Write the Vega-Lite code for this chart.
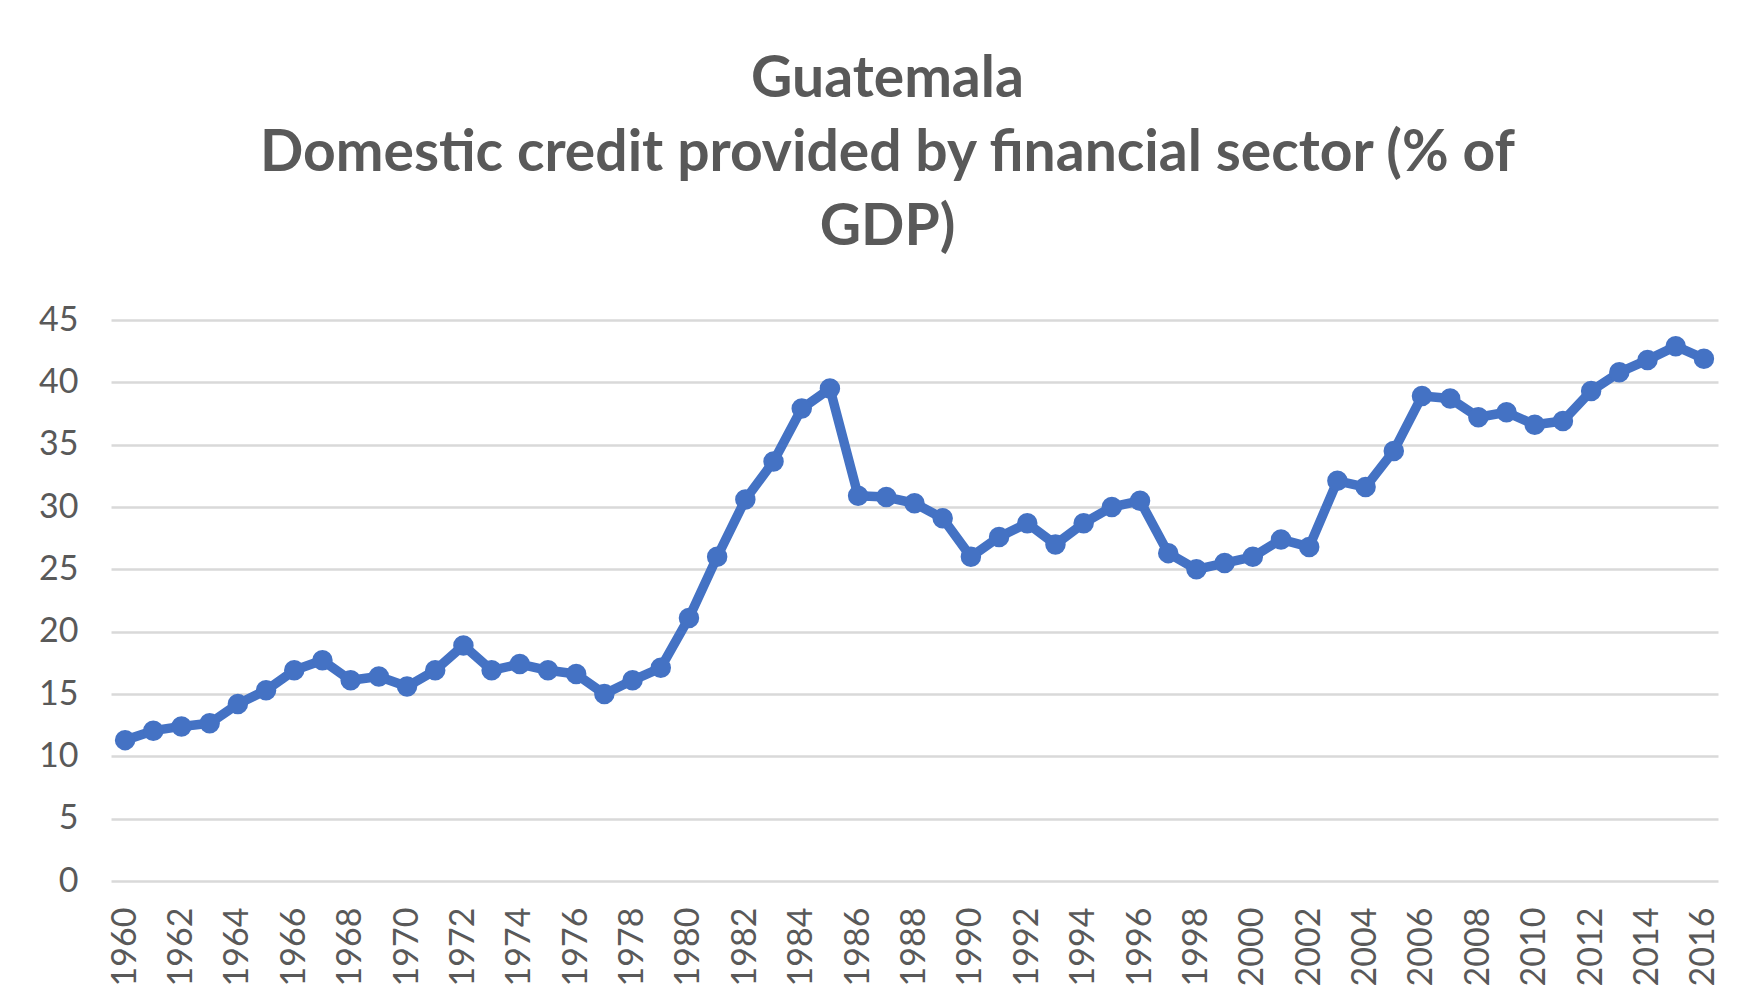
{
  "$schema": "https://vega.github.io/schema/vega-lite/v6.json",
  "autosize": {"type": "none"},
  "padding": {"left": 111, "top": 320, "right": 27, "bottom": 126},
  "width": 1607,
  "height": 561,
  "background": "white",
  "title": {
    "text": ["Guatemala", "Domestic credit provided by financial sector (% of", "GDP)"],
    "font": "Lato",
    "fontSize": 57,
    "fontWeight": "bold",
    "color": "#595959",
    "lineHeight": 74,
    "anchor": "middle",
    "dx": -27,
    "offset": 46
  },
  "data": {
    "values": [
      {"year": 1960, "value": 11.3}, {"year": 1961, "value": 12.06}, {"year": 1962, "value": 12.4},
      {"year": 1963, "value": 12.65}, {"year": 1964, "value": 14.2}, {"year": 1965, "value": 15.3},
      {"year": 1966, "value": 16.9}, {"year": 1967, "value": 17.7}, {"year": 1968, "value": 16.1},
      {"year": 1969, "value": 16.4}, {"year": 1970, "value": 15.6}, {"year": 1971, "value": 16.9},
      {"year": 1972, "value": 18.9}, {"year": 1973, "value": 16.9}, {"year": 1974, "value": 17.4},
      {"year": 1975, "value": 16.9}, {"year": 1976, "value": 16.6}, {"year": 1977, "value": 15.0},
      {"year": 1978, "value": 16.1}, {"year": 1979, "value": 17.1}, {"year": 1980, "value": 21.1},
      {"year": 1981, "value": 26.0}, {"year": 1982, "value": 30.6}, {"year": 1983, "value": 33.65},
      {"year": 1984, "value": 37.9}, {"year": 1985, "value": 39.5}, {"year": 1986, "value": 30.9},
      {"year": 1987, "value": 30.8}, {"year": 1988, "value": 30.3}, {"year": 1989, "value": 29.1},
      {"year": 1990, "value": 26.0}, {"year": 1991, "value": 27.6}, {"year": 1992, "value": 28.7},
      {"year": 1993, "value": 27.0}, {"year": 1994, "value": 28.7}, {"year": 1995, "value": 30.0},
      {"year": 1996, "value": 30.5}, {"year": 1997, "value": 26.3}, {"year": 1998, "value": 25.0},
      {"year": 1999, "value": 25.5}, {"year": 2000, "value": 26.0}, {"year": 2001, "value": 27.4},
      {"year": 2002, "value": 26.8}, {"year": 2003, "value": 32.1}, {"year": 2004, "value": 31.6},
      {"year": 2005, "value": 34.5}, {"year": 2006, "value": 38.9}, {"year": 2007, "value": 38.7},
      {"year": 2008, "value": 37.2}, {"year": 2009, "value": 37.6}, {"year": 2010, "value": 36.6},
      {"year": 2011, "value": 36.9}, {"year": 2012, "value": 39.3}, {"year": 2013, "value": 40.8},
      {"year": 2014, "value": 41.8}, {"year": 2015, "value": 42.9}, {"year": 2016, "value": 41.9}
    ]
  },
  "mark": {
    "type": "line",
    "color": "#4472C4",
    "strokeWidth": 9.5,
    "strokeJoin": "round",
    "point": {"filled": true, "size": 420, "color": "#4472C4"}
  },
  "encoding": {
    "x": {
      "field": "year",
      "type": "ordinal",
      "scale": {"type": "point", "padding": 0.5},
      "axis": {
        "title": null,
        "labelAngle": 270,
        "labelAlign": "right",
        "labelBaseline": "middle",
        "labelExpr": "datum.value % 2 == 0 ? datum.label : ''",
        "labelFont": "Lato",
        "labelFontSize": 34,
        "labelColor": "#595959",
        "labelPadding": 26,
        "ticks": false,
        "domain": false,
        "grid": false
      }
    },
    "y": {
      "field": "value",
      "type": "quantitative",
      "scale": {"domain": [0, 45], "nice": false},
      "axis": {
        "title": null,
        "values": [0, 5, 10, 15, 20, 25, 30, 35, 40, 45],
        "labelFont": "Lato",
        "labelFontSize": 34,
        "labelColor": "#595959",
        "labelPadding": 33,
        "ticks": false,
        "domain": false,
        "grid": true,
        "gridColor": "#D9D9D9",
        "gridWidth": 2.5
      }
    }
  },
  "config": {
    "view": {"stroke": null}
  }
}
